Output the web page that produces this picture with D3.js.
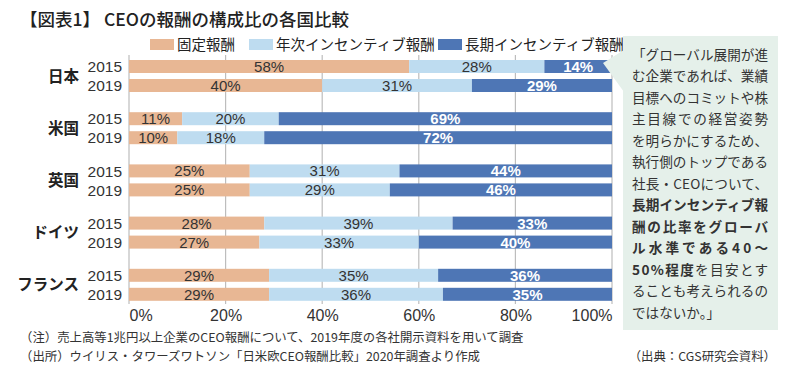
<!DOCTYPE html>
<html>
<head>
<meta charset="utf-8">
<script src="https://cdn.jsdelivr.net/npm/d3@7"></script>
<style>
  body { margin: 0; background: #fff; }
  svg { font-family: "Noto Sans CJK JP", "Noto Sans", sans-serif; }
  .num { font-family: "Liberation Sans", "Noto Sans CJK JP", sans-serif; }
</style>
</head>
<body>
<svg id="chart" width="800" height="381"></svg>
<script>
// data
const countries = ["日本", "米国", "英国", "ドイツ", "フランス"];
const years = ["2015", "2019"];
const seriesNames = ["固定報酬", "年次インセンティブ報酬", "長期インセンティブ報酬"];
const fixedPay  = [[58, 40], [11, 10], [25, 25], [28, 27], [29, 29]];
const annualPay = [[28, 31], [20, 18], [31, 29], [39, 33], [35, 36]];
const longPay   = [[14, 29], [69, 72], [44, 46], [33, 40], [36, 35]];
const xTicks = [0, 20, 40, 60, 80, 100];

const calloutLines = [
  [["「グローバル展開が進", false]],
  [["む企業であれば、業績", false]],
  [["目標へのコミットや株", false]],
  [["主目線での経営姿勢", false]],
  [["を明らかにするため、", false]],
  [["執行側のトップである", false]],
  [["社長・CEOについて、", false]],
  [["長期インセンティブ報", true]],
  [["酬の比率をグローバ", true]],
  [["ル水準である40～", true]],
  [["50%程度", true], ["を目安とす", false]],
  [["ることも考えられるの", false]],
  [["ではないか。」", false]]
];

const colors = ["#e8b794", "#bedcf0", "#4e76b5"];
const svg = d3.select("#chart");

// title
svg.append("text")
  .attr("x", 20).attr("y", 26)
  .attr("font-size", 17.5).attr("font-weight", 500).attr("fill", "#222")
  .text("【図表1】 CEOの報酬の構成比の各国比較");

// legend
const legendX = [150, 249, 438];
seriesNames.forEach((name, i) => {
  svg.append("rect")
    .attr("x", legendX[i]).attr("y", 39)
    .attr("width", 24).attr("height", 11)
    .attr("fill", colors[i]);
  svg.append("text")
    .attr("x", legendX[i] + 27).attr("y", 50)
    .attr("font-size", 14.5).attr("fill", "#222")
    .text(name);
});

// scales
const x = d3.scaleLinear().domain([0, 100]).range([129, 612]);
const y0 = d3.scaleBand().domain(countries).range([50, 311]);
const y1 = d3.scaleBand().domain(years).range([10, 42]).paddingInner(6 / 19);

// gridlines
svg.append("g").selectAll("line").data(xTicks).join("line")
  .attr("x1", d => x(d)).attr("x2", d => x(d))
  .attr("y1", 55).attr("y2", 304)
  .attr("stroke", "#bdbdbd").attr("stroke-width", 1.2);

// stacked rows
const rows = [];
countries.forEach((c, ci) => {
  years.forEach((yr, yi) => {
    const vals = [fixedPay[ci][yi], annualPay[ci][yi], longPay[ci][yi]];
    let acc = 0;
    vals.forEach((v, si) => {
      rows.push({ country: c, year: yr, series: si, v: v, x0: acc, x1: acc + v });
      acc += v;
    });
  });
});

const barG = svg.append("g");
barG.selectAll("rect").data(rows).join("rect")
  .attr("x", d => x(d.x0))
  .attr("width", d => x(d.x1) - x(d.x0))
  .attr("y", d => y0(d.country) + y1(d.year))
  .attr("height", y1.bandwidth())
  .attr("fill", d => colors[d.series]);

barG.selectAll("text").data(rows).join("text")
  .attr("class", "num")
  .attr("font-size", 15)
  .attr("x", d => x((d.x0 + d.x1) / 2))
  .attr("y", d => y0(d.country) + y1(d.year) + y1.bandwidth() / 2)
  .attr("dy", "0.37em")
  .attr("text-anchor", "middle")
  .attr("fill", d => d.series === 2 ? "#fff" : "#333")
  .attr("font-weight", d => d.series === 2 ? 700 : 400)
  .text(d => d.v + "%");

// year labels and country labels
countries.forEach(c => {
  years.forEach(yr => {
    svg.append("text")
      .attr("class", "num")
      .attr("x", 122)
      .attr("y", y0(c) + y1(yr) + y1.bandwidth() / 2)
      .attr("dy", "0.37em")
      .attr("text-anchor", "end")
      .attr("font-size", 15.5).attr("fill", "#333")
      .text(yr);
  });
  svg.append("text")
    .attr("x", 79)
    .attr("y", y0(c) + y0.bandwidth() / 2)
    .attr("dy", "0.36em")
    .attr("text-anchor", "end")
    .attr("font-size", 15.5).attr("font-weight", 700).attr("fill", "#222")
    .text(c);
});

// bottom axis
const axis = svg.append("g")
  .attr("transform", "translate(0,304)")
  .call(d3.axisBottom(x).tickValues(xTicks).tickSize(0).tickPadding(6).tickFormat(d => d + "%"));
axis.select(".domain").remove();
axis.selectAll("text")
  .attr("class", "num")
  .attr("font-size", 16).attr("fill", "#333")
  .attr("font-family", null)
  .attr("text-anchor", d => d === 0 ? "start" : d === 100 ? "end" : "middle");
axis.attr("font-family", null);

// callout box
svg.append("rect")
  .attr("x", 623).attr("y", 36)
  .attr("width", 155).attr("height", 294)
  .attr("fill", "#e5f0ea");
svg.append("path")
  .attr("d", "M603,63 L624,50 L624,92 Z")
  .attr("fill", "#e5f0ea");

calloutLines.forEach((parts, i) => {
  const t = svg.append("text")
    .attr("x", 632).attr("y", 55 + i * 21.5)
    .attr("dy", "0.36em")
    .attr("font-size", 13.6).attr("fill", "#333");
  if (i < calloutLines.length - 1) {
    t.attr("textLength", 136).attr("lengthAdjust", "spacing");
  }
  parts.forEach(p => {
    t.append("tspan")
      .attr("font-weight", p[1] ? 700 : 400)
      .text(p[0]);
  });
});

// footnotes
svg.append("text")
  .attr("x", 20).attr("y", 338).attr("dy", "0.36em")
  .attr("font-size", 12.4).attr("fill", "#333")
  .text("（注）売上高等1兆円以上企業のCEO報酬について、2019年度の各社開示資料を用いて調査");
svg.append("text")
  .attr("x", 20).attr("y", 357).attr("dy", "0.36em")
  .attr("font-size", 12.4).attr("fill", "#333")
  .text("（出所）ウイリス・タワーズワトソン「日米欧CEO報酬比較」2020年調査より作成");
svg.append("text")
  .attr("x", 776).attr("y", 357).attr("dy", "0.36em")
  .attr("text-anchor", "end")
  .attr("font-size", 12.4).attr("fill", "#333")
  .text("（出典：CGS研究会資料）");
</script>
</body>
</html>
